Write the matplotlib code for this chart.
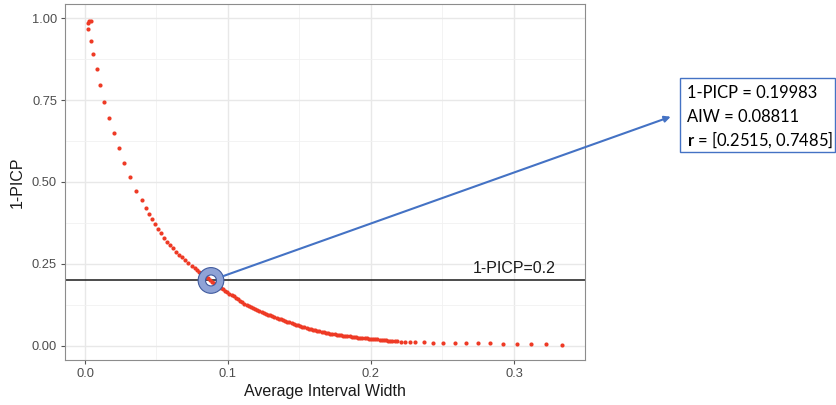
import matplotlib
matplotlib.use("Agg")
import matplotlib.pyplot as plt
from matplotlib.patches import Rectangle

plt.rcParams['font.family'] = ['Liberation Sans', 'DejaVu Sans']
plt.rcParams['mathtext.fontset'] = 'custom'
plt.rcParams['mathtext.rm'] = 'Lato'
plt.rcParams['mathtext.bf'] = 'Lato:bold'

# puntos de la curva (Average Interval Width, 1-PICP)
aiw = [0.0023, 0.0023, 0.003, 0.004, 0.004, 0.0058, 0.0082, 0.0107, 0.0135, 0.0166,
       0.0201, 0.0236, 0.0273, 0.0315, 0.0355, 0.0397, 0.0424, 0.045, 0.0471, 0.0492,
       0.0513, 0.0531, 0.0552, 0.0573, 0.0594, 0.0617, 0.0638, 0.0659, 0.0678, 0.0699,
       0.0722, 0.0746, 0.0769,
       0.0785, 0.080, 0.0815, 0.083, 0.0845, 0.086, 0.0875, 0.089, 0.0905, 0.092,
       0.0935, 0.095, 0.0965, 0.098, 0.0995, 0.101, 0.1025, 0.104, 0.1055, 0.107,
       0.1085, 0.110, 0.1115, 0.113, 0.1145, 0.116, 0.1175, 0.119, 0.1205, 0.122,
       0.1235, 0.125, 0.1265, 0.128, 0.1295, 0.131, 0.1325, 0.134, 0.1355, 0.137,
       0.1385, 0.140, 0.1415, 0.143, 0.1445, 0.146, 0.1475, 0.149, 0.1505, 0.152,
       0.1535, 0.155, 0.1565, 0.158, 0.1595, 0.161, 0.1625, 0.164, 0.1655, 0.167,
       0.1685, 0.170, 0.1715, 0.173, 0.1745, 0.176, 0.1775, 0.179, 0.1805, 0.182,
       0.1835, 0.185, 0.1865, 0.188, 0.1895, 0.191, 0.1925, 0.194, 0.1955, 0.197,
       0.1985, 0.200, 0.2015, 0.203, 0.2045, 0.206, 0.2075, 0.209, 0.2105, 0.212,
       0.2135, 0.215, 0.2165, 0.218,
       0.221, 0.224, 0.227, 0.231, 0.237, 0.2436, 0.2506, 0.2585, 0.2664, 0.2748,
       0.2832, 0.2926, 0.3019, 0.3119, 0.3222, 0.3334]
picp = [0.966, 0.986, 0.991, 0.992, 0.930, 0.889, 0.844, 0.797, 0.745, 0.696,
        0.649, 0.605, 0.559, 0.515, 0.473, 0.445, 0.420, 0.402, 0.387, 0.372,
        0.357, 0.344, 0.330, 0.318, 0.308, 0.298, 0.2875, 0.278, 0.270, 0.262,
        0.254, 0.245, 0.237,
        0.232, 0.226, 0.221, 0.216, 0.211, 0.206, 0.200, 0.196, 0.191, 0.187,
        0.182, 0.178, 0.173, 0.169, 0.165, 0.160, 0.156, 0.151, 0.147, 0.142,
        0.138, 0.133, 0.129, 0.126, 0.122, 0.119, 0.116, 0.112, 0.109, 0.106,
        0.103, 0.101, 0.098, 0.095, 0.093, 0.090, 0.088, 0.085, 0.083, 0.081,
        0.079, 0.076, 0.074, 0.072, 0.070, 0.068, 0.065, 0.063, 0.061, 0.059,
        0.057, 0.055, 0.053, 0.051, 0.0495, 0.048, 0.0465, 0.045, 0.0435, 0.042,
        0.0405, 0.039, 0.038, 0.037, 0.036, 0.035, 0.034, 0.0325, 0.0315, 0.0305,
        0.030, 0.029, 0.028, 0.027, 0.026, 0.0255, 0.025, 0.024, 0.0235, 0.023,
        0.022, 0.0215, 0.021, 0.0205, 0.020, 0.019, 0.0185, 0.018, 0.017, 0.0165,
        0.016, 0.0155, 0.015, 0.014,
        0.013, 0.0125, 0.012, 0.0115, 0.011, 0.0105, 0.010, 0.0095, 0.009, 0.0085,
        0.008, 0.007, 0.0065, 0.006, 0.005, 0.004]

umbral = 0.2
sel_aiw = 0.08811
sel_picp = 0.19983
sel_r = [0.2515, 0.7485]

xticks = [0.0, 0.1, 0.2, 0.3]
yticks = [0.00, 0.25, 0.50, 0.75, 1.00]

fig = plt.figure(figsize=(8.37, 4.05), dpi=100)
ax = fig.add_axes([65/837, 45/405, 520/837, 356/405])

ax.set_xlim(-0.01399, 0.3497)
ax.set_ylim(-0.0427, 1.0427)

# grilla estilo theme_bw
ax.set_xticks(xticks)
ax.set_xticklabels(['0.0', '0.1', '0.2', '0.3'])
ax.set_yticks(yticks)
ax.set_yticklabels(['0.00', '0.25', '0.50', '0.75', '1.00'])
ax.set_xticks([0.05, 0.15, 0.25], minor=True)
ax.set_yticks([0.125, 0.375, 0.625, 0.875], minor=True)
ax.grid(True, which='major', color='#E8E8E8', lw=1.0)
ax.grid(True, which='minor', color='#F1F1F1', lw=0.6)
ax.set_axisbelow(True)
ax.tick_params(which='major', length=3.2, width=0.8, color='#555555',
               labelsize=9.3, labelcolor='#4D4D4D', pad=2.5)
ax.tick_params(which='minor', length=0)
for s in ax.spines.values():
    s.set_color('#8C8C8C')
    s.set_linewidth(0.8)

ax.axhline(umbral, color='#1a1a1a', lw=1.1, zorder=2)
ax.scatter(aiw, picp, s=9, color='#EE3A25', linewidths=0, zorder=3)
ax.text(0.3, umbral + 0.012, '1-PICP=0.2', fontsize=11.5, color='#1a1a1a',
        ha='center', va='bottom')

ax.set_xlabel('Average Interval Width', fontsize=11.5, color='#1a1a1a', labelpad=3)
ax.set_ylabel('1-PICP', fontsize=11.5, color='#1a1a1a', labelpad=5)

# anillo del punto seleccionado
ax.scatter([sel_aiw], [sel_picp], s=13.2**2, facecolors='none',
           edgecolors='#8FA3D6', linewidths=5.3, zorder=4)
ax.scatter([sel_aiw], [sel_picp], s=18.5**2, facecolors='none',
           edgecolors='#3F5A9E', linewidths=0.8, zorder=5)
ax.scatter([sel_aiw], [sel_picp], s=7.9**2, facecolors='none',
           edgecolors='#3F5A9E', linewidths=0.8, zorder=5)

# flecha hacia el cuadro de texto
ax.annotate('', xy=(670.7/837, 1 - 116.7/405), xycoords='figure fraction',
            xytext=(sel_aiw, sel_picp), textcoords='data',
            arrowprops=dict(arrowstyle='-|>', color='#4472C4', lw=1.5,
                            mutation_scale=9, shrinkA=9.5, shrinkB=0),
            annotation_clip=False, zorder=6)

fig.patches.append(Rectangle((680/837, 1 - 152/405), 155.5/837, 74/405,
                             transform=fig.transFigure, fill=False,
                             edgecolor='#4472C4', lw=1.0))
lineas = ['1-PICP = %.5f' % sel_picp,
          'AIW = %.5f' % sel_aiw,
          r'$\mathbf{r}$ = [%.4f, %.4f]' % (sel_r[0], sel_r[1])]
for i, t in enumerate(lineas):
    fig.text(687/837, 1 - (93.3 + 23.3*i)/405, t, fontsize=11.9,
             family='Lato', color='black', va='center', ha='left')

fig.savefig('out.png', dpi=100)
